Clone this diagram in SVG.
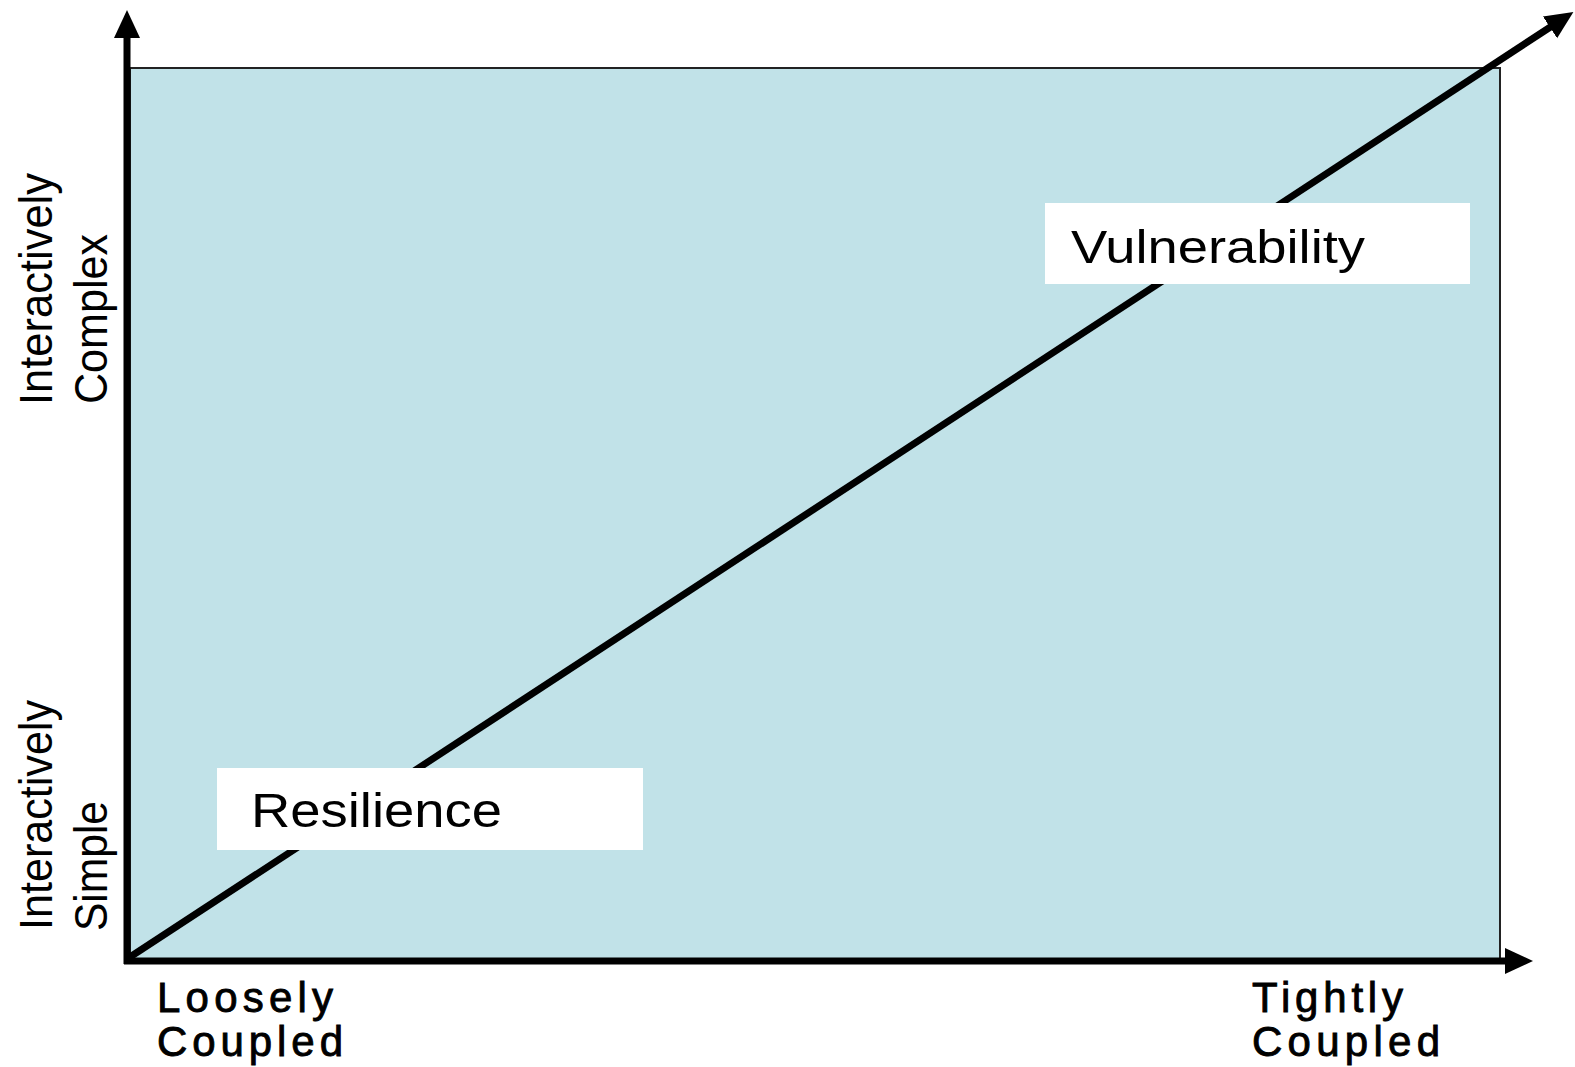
<svg xmlns="http://www.w3.org/2000/svg" width="1575" height="1067" viewBox="0 0 1575 1067">
<style>
.lbl{font-family:"Liberation Sans",Arial,sans-serif;fill:#000;}
.axl{font-family:"Liberation Sans",Arial,sans-serif;fill:#000;stroke:#000;stroke-width:0.9;}
.box{fill:#fff;stroke:none;}
.ax{stroke:#000;stroke-width:7;fill:none;}
</style>
<defs>
<marker id="arr" markerUnits="userSpaceOnUse" markerWidth="28" markerHeight="28" refX="6" refY="14" orient="auto" viewBox="0 0 28 28">
<path d="M0,1 L28,14 L0,27 z" fill="#000"/>
</marker>
</defs>
<rect width="1575" height="1067" fill="#fff"/>
<g id="plane">
<rect x="130" y="68" width="1370" height="892" fill="#c1e2e8" stroke="#222" stroke-width="2"/>
</g>
<g id="connectors">
<line class="ax" x1="127" y1="964" x2="127" y2="32" marker-end="url(#arr)"/>
<line class="ax" x1="124" y1="961" x2="1511" y2="961" marker-end="url(#arr)"/>
<line class="ax" x1="130" y1="957" x2="1555" y2="24" marker-end="url(#arr)"/>
</g>
<g id="vulnerability">
<rect class="box" x="1045" y="203" width="425" height="81"/>
<text class="lbl" x="1071" y="263" font-size="47" textLength="294" lengthAdjust="spacingAndGlyphs">Vulnerability</text>
</g>
<g id="resilience">
<rect class="box" x="217" y="768" width="426" height="82"/>
<text class="lbl" x="251" y="827" font-size="48" textLength="251" lengthAdjust="spacingAndGlyphs">Resilience</text>
</g>
<g id="y-complex">
<text class="lbl" transform="translate(52,405) rotate(-90)" font-size="47" textLength="232" lengthAdjust="spacingAndGlyphs">Interactively</text>
<text class="lbl" transform="translate(107,404) rotate(-90)" font-size="47" textLength="170" lengthAdjust="spacingAndGlyphs">Complex</text>
</g>
<g id="y-simple">
<text class="lbl" transform="translate(52,930) rotate(-90)" font-size="47" textLength="230" lengthAdjust="spacingAndGlyphs">Interactively</text>
<text class="lbl" transform="translate(107,931) rotate(-90)" font-size="47" textLength="130" lengthAdjust="spacingAndGlyphs">Simple</text>
</g>
<g id="x-loose">
<text class="axl" x="157" y="1012" font-size="42" textLength="176" lengthAdjust="spacing">Loosely</text>
<text class="axl" x="157" y="1056" font-size="42" textLength="186" lengthAdjust="spacing">Coupled</text>
</g>
<g id="x-tight">
<text class="axl" x="1252" y="1012" font-size="42" textLength="151" lengthAdjust="spacing">Tightly</text>
<text class="axl" x="1252" y="1056" font-size="42" textLength="188" lengthAdjust="spacing">Coupled</text>
</g>
</svg>
